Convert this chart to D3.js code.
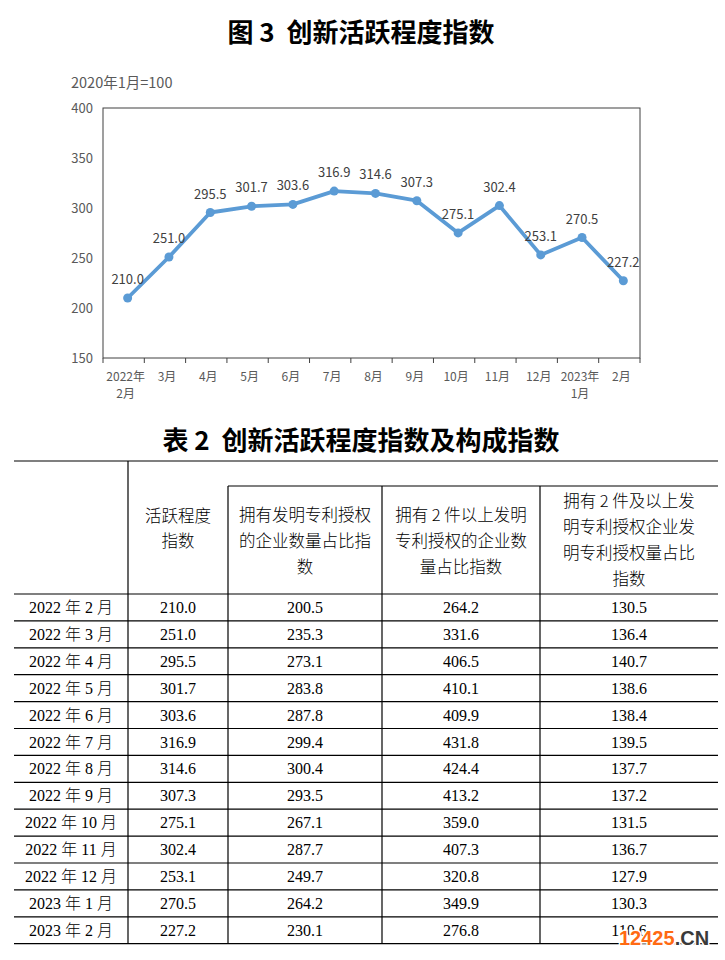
<!DOCTYPE html>
<html>
<head>
<meta charset="UTF-8">
<title>创新活跃程度指数</title>
<script src="https://d3js.org/d3.v7.min.js"></script>
<style>
  body {margin: 0; background: #fff;}
  svg {display: block;}
  .title {font-family: "Noto Sans CJK SC", sans-serif; font-weight: bold; font-size: 26px; fill: #000; white-space: pre;}
  .axis text {font-family: "Noto Sans CJK SC", sans-serif; font-size: 12px; fill: #595959;}
  .lbl {font-family: "Noto Sans CJK SC", sans-serif; font-size: 13px; fill: #404040;}
  .head {font-family: "Noto Sans CJK SC", sans-serif; font-weight: 300; font-size: 16.5px; fill: #000; white-space: pre;}
  .cell {font-family: "Liberation Serif", "Noto Sans CJK SC", serif; font-size: 16px; font-weight: 300; fill: #000;}
</style>
</head>
<body>
<div id="chart"></div>
<script>
// data
var months = ["2022年2月","2022年3月","2022年4月","2022年5月","2022年6月","2022年7月","2022年8月",
              "2022年9月","2022年10月","2022年11月","2022年12月","2023年1月","2023年2月"];
var xLabels = [["2022年","2月"],["3月"],["4月"],["5月"],["6月"],["7月"],["8月"],["9月"],
               ["10月"],["11月"],["12月"],["2023年","1月"],["2月"]];
var rowLabels = ["2022 年 2 月","2022 年 3 月","2022 年 4 月","2022 年 5 月","2022 年 6 月","2022 年 7 月",
                 "2022 年 8 月","2022 年 9 月","2022 年 10 月","2022 年 11 月","2022 年 12 月",
                 "2023 年 1 月","2023 年 2 月"];
var activity    = [210.0,251.0,295.5,301.7,303.6,316.9,314.6,307.3,275.1,302.4,253.1,270.5,227.2];
var firmShare   = [200.5,235.3,273.1,283.8,287.8,299.4,300.4,293.5,267.1,287.7,249.7,264.2,230.1];
var multiShare  = [264.2,331.6,406.5,410.1,409.9,431.8,424.4,413.2,359.0,407.3,320.8,349.9,276.8];
var patentShare = [130.5,136.4,140.7,138.6,138.4,139.5,137.7,137.2,131.5,136.7,127.9,130.3,110.6];
var yTicks = [150,200,250,300,350,400];
var headers = [["活跃程度","指数"],
               ["拥有发明专利授权","的企业数量占比指","数"],
               ["拥有 2 件以上发明","专利授权的企业数","量占比指数"],
               ["拥有 2 件及以上发","明专利授权企业发","明专利授权量占比","指数"]];

var W = 725, H = 960;
var svg = d3.select("#chart").append("svg").attr("width", W).attr("height", H);

// ---------- chart ----------
svg.append("text").attr("class", "title").attr("x", 361).attr("y", 42)
   .attr("text-anchor", "middle").text("图 3  创新活跃程度指数");

var plot = {left: 103, right: 640, top: 108, bottom: 358};

var x = d3.scaleBand().domain(months).range([plot.left, plot.right]);
var y = d3.scaleLinear().domain([150, 400]).range([plot.bottom, plot.top]);
function px(i) {return x(months[i]) + x.bandwidth() / 2 + 4;}

svg.append("text").attr("class", "lbl").attr("x", 71).attr("y", 88)
   .style("fill", "#595959").style("font-size", "14.5px").text("2020年1月=100");

svg.append("rect").attr("x", plot.left).attr("y", plot.top)
   .attr("width", plot.right - plot.left).attr("height", plot.bottom - plot.top)
   .attr("fill", "none").attr("stroke", "#404040").attr("stroke-width", 1);

var yAxis = svg.append("g").attr("class", "axis")
   .attr("transform", "translate(" + plot.left + ",0)")
   .call(d3.axisLeft(y).tickValues(yTicks).tickSize(0).tickPadding(10));
yAxis.select(".domain").remove();
yAxis.selectAll("text").style("font-size", "13px");

// x ticks at band edges
var edges = months.map(function(d) {return x(d);}).concat([plot.right]);
svg.append("g").selectAll("line").data(edges).enter().append("line")
   .attr("x1", function(d) {return d;}).attr("x2", function(d) {return d;})
   .attr("y1", plot.bottom).attr("y2", plot.bottom + 5)
   .attr("stroke", "#404040");

var xl = svg.append("g").attr("class", "axis").selectAll("text").data(months).enter().append("text")
   .attr("y", plot.bottom + 23)
   .attr("text-anchor", "middle");
xl.each(function(d, i) {
  var t = d3.select(this);
  xLabels[i].forEach(function(s, j) {
    t.append("tspan").attr("x", x(d) + x.bandwidth() / 2 + 2).attr("dy", j ? 17 : 0).text(s);
  });
});

var line = d3.line()
   .x(function(d, i) {return px(i);})
   .y(function(d) {return y(d);});

svg.append("path").datum(activity).attr("d", line)
   .attr("fill", "none").attr("stroke", "#5B9BD5").attr("stroke-width", 3.8)
   .attr("stroke-linejoin", "round");

svg.append("g").selectAll("circle").data(activity).enter().append("circle")
   .attr("cx", function(d, i) {return px(i);})
   .attr("cy", function(d) {return y(d);})
   .attr("r", 4.5).attr("fill", "#5B9BD5");

svg.append("g").selectAll("text").data(activity).enter().append("text")
   .attr("class", "lbl").attr("text-anchor", "middle")
   .attr("x", function(d, i) {return px(i);})
   .attr("y", function(d) {return y(d) - 14;})
   .text(function(d) {return d.toFixed(1);});

// ---------- table ----------
svg.append("text").attr("class", "title").attr("x", 361).attr("y", 450)
   .attr("text-anchor", "middle").text("表 2  创新活跃程度指数及构成指数");

var colEdges = [14, 128, 228, 382, 540, 718];
var tTop = 461, subTop = 486, headBottom = 594, rowH = 26.9;
var rowY = d3.scaleLinear().domain([0, months.length]).range([headBottom, headBottom + rowH * months.length]);

var grid = svg.append("g").attr("stroke", "#000").attr("stroke-width", 1.2);
grid.append("line").attr("x1", colEdges[0]).attr("x2", colEdges[5]).attr("y1", tTop).attr("y2", tTop);
grid.append("line").attr("x1", colEdges[2]).attr("x2", colEdges[5]).attr("y1", subTop).attr("y2", subTop);
grid.selectAll(".hl").data(d3.range(months.length + 1)).enter().append("line")
   .attr("x1", colEdges[0]).attr("x2", colEdges[5])
   .attr("y1", function(d) {return rowY(d);}).attr("y2", function(d) {return rowY(d);});
grid.append("line").attr("x1", colEdges[1]).attr("x2", colEdges[1])
   .attr("y1", tTop).attr("y2", rowY(months.length));
[2, 3, 4].forEach(function(c) {
  grid.append("line").attr("x1", colEdges[c]).attr("x2", colEdges[c])
     .attr("y1", subTop).attr("y2", rowY(months.length));
});

var headerY = [[516, 541], [515, 541, 567], [515, 541, 567], [501, 527, 553, 579]];
headers.forEach(function(h, c) {
  var cx = (colEdges[c + 1] + colEdges[c + 2]) / 2;
  h.forEach(function(s, j) {
    svg.append("text").attr("class", "head").attr("x", cx).attr("y", headerY[c][j] + 6)
       .attr("text-anchor", "middle").text(s);
  });
});

var cols = [activity, firmShare, multiShare, patentShare];
svg.append("g").selectAll("text").data(rowLabels).enter().append("text")
   .attr("class", "cell").attr("text-anchor", "middle")
   .attr("x", (colEdges[0] + colEdges[1]) / 2)
   .attr("y", function(d, i) {return rowY(i) + 19;})
   .text(function(d) {return d;});
cols.forEach(function(col, c) {
  var cx = (colEdges[c + 1] + colEdges[c + 2]) / 2;
  svg.append("g").selectAll("text").data(col).enter().append("text")
     .attr("class", "cell").attr("text-anchor", "middle")
     .attr("x", cx).attr("y", function(d, i) {return rowY(i) + 19;})
     .text(function(d) {return d.toFixed(1);});
});

// watermark
var wm = svg.append("text").attr("x", 619).attr("y", 945)
   .style("font-family", "Liberation Sans, Arial, sans-serif").style("font-weight", "bold")
   .style("font-size", "20px").attr("stroke", "#fff").attr("stroke-width", 3).attr("paint-order", "stroke");
wm.append("tspan").attr("fill", "#FF6A13").text("12425");
wm.append("tspan").attr("fill", "#3a3a3a").text(".CN");
</script>
</body>
</html>
